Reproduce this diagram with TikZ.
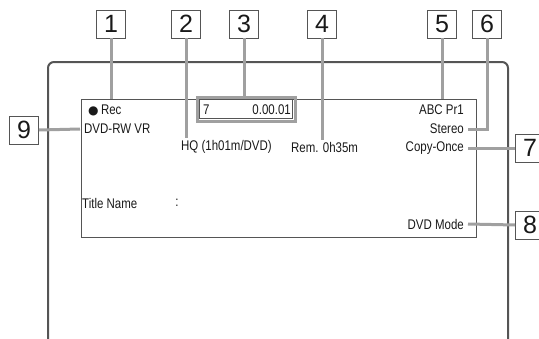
\documentclass[tikz,border=0pt]{standalone}
\usepackage{fontspec}
\setmainfont{Liberation Sans}[FakeStretch=0.82]
\newfontfamily\numfont{Liberation Sans}
\newfontfamily\symfont{DejaVu Sans}
\usepackage{tikz}
\usetikzlibrary{positioning, calc}
\definecolor{frameGray}{RGB}{85, 85, 85}
\definecolor{leadGray}{RGB}{160, 160, 160}
\definecolor{textDark}{RGB}{25, 25, 25}
\tikzset{
  numbox/.style={rectangle, draw=frameGray, fill=white, line width=0.9pt,
                 minimum width=29pt, minimum height=28pt, inner sep=0pt,
                 text=textDark, font=\numfont\fontsize{25}{25}\selectfont},
  osd/.style={inner xsep=4pt, inner ysep=2pt, text=textDark,
              font=\fontsize{14}{14}\selectfont},
  leader/.style={draw=leadGray, line width=3pt},
  tvframe/.style={draw=frameGray, line width=2pt, rounded corners=6pt},
  screenbox/.style={rectangle, draw=frameGray, line width=1pt,
                    minimum width=395pt, minimum height=138pt},
}
\begin{document}
\begin{tikzpicture}[x=1pt, y=-1pt]
    \useasboundingbox (0,0) rectangle (539,338);

    % TV frame and screen
    \draw[tvframe] (48,340) -- (48,62) -- (508,62) -- (508,340);
    \node[screenbox] (screen) at (278.5,168) {};

    % on-screen display
    \node[osd, anchor=west] (rec)     at (84,110)  {{\symfont\fontsize{12}{12}\selectfont ●}\,Rec};
    \node[osd, anchor=west] (dvdrw)   at (80,129)  {DVD-RW VR};
    \node[osd, anchor=west] (hq)      at (177,147) {HQ (1h01m/DVD)};
    \node[osd, anchor=west] (rem)     at (287,147) {Rem. 0h35m};
    \node[osd, anchor=east] (abc)     at (468,110) {ABC Pr1};
    \node[osd, anchor=east] (stereo)  at (468,129) {Stereo};
    \node[osd, anchor=east] (copy)    at (468,148) {Copy-Once};
    \node[osd, anchor=east] (dvdmode) at (468,224) {DVD Mode};
    \node[osd, anchor=west] (title)   at (78,203)  {Title Name};
    \node[osd]              (colon)   at (177,203) {:};

    % counter
    \node[draw=leadGray, line width=3pt, minimum width=98pt, minimum height=24pt] (counter) at (246,109) {};
    \node[draw=frameGray, line width=0.6pt, minimum width=93pt, minimum height=19pt] (counterin) at (counter) {};
    \node[osd, anchor=west] (cnt7)    at (199,110) {7};
    \node[osd, anchor=east] (cnttime) at (295,110) {0.00.01};

    % number labels
    \node[numbox] (n1) at (111,24)  {1};
    \node[numbox] (n2) at (186,24)  {2};
    \node[numbox] (n3) at (244,24)  {3};
    \node[numbox] (n4) at (322,24)  {4};
    \node[numbox] (n5) at (442,24)  {5};
    \node[numbox] (n6) at (487,24)  {6};
    \node[numbox] (n7) at (530,148) {7};
    \node[numbox] (n8) at (530,225) {8};
    \node[numbox] (n9) at (24,130)  {9};

    % leaders
    \draw[leader] (n1.south) -- (n1.south |- screen.north);
    \draw[leader] (n2.south) -- (n2.south |- hq.north);
    \draw[leader] (n3.south) -- (n3.south |- counter.north);
    \draw[leader] (n4.south) -- (n4.south |- rem.north);
    \draw[leader] (n5.south) -- (n5.south |- screen.north);
    \draw[leader] (n6.south) |- (stereo.east);
    \draw[leader] (copy.east) -- (n7.west);
    \draw[leader] (dvdmode.east) -- (n8.west);
    \draw[leader] (n9.east) -- (dvdrw.west);
  \end{tikzpicture}
\end{document}
